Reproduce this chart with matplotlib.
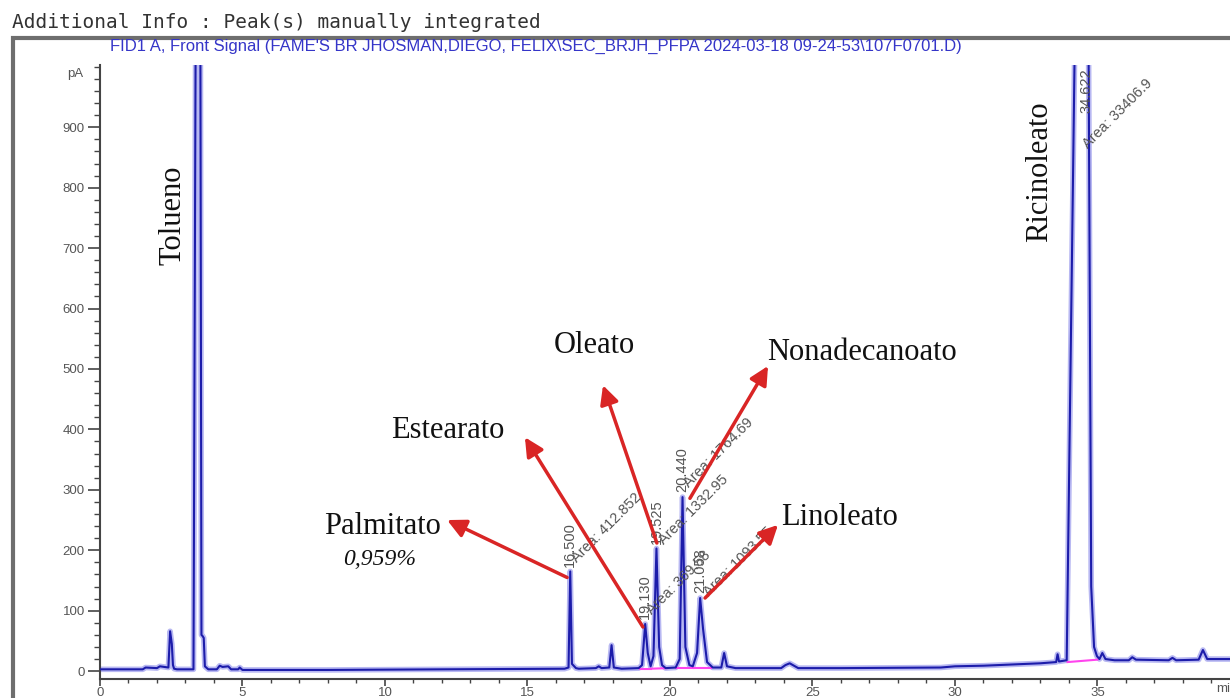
import matplotlib
matplotlib.use("Agg")
import matplotlib.pyplot as plt
from matplotlib.patches import Rectangle
from matplotlib.ticker import MultipleLocator

# =============================================================================
# FID chromatogram (FAME) - trace
# =============================================================================
# 0 - 6 min : solvent region (toluene off-scale)
t_a = [0.0, 1.5, 1.6, 2.0, 2.1, 2.4, 2.46, 2.52, 2.56, 2.6, 2.7, 3.28, 3.36,
       3.52, 3.56, 3.6, 3.64, 3.68, 3.8, 4.1, 4.2, 4.3, 4.5, 4.6, 4.85, 4.9, 5.0]
s_a = [3, 3, 6, 5, 8, 6, 66, 45, 10, 4, 3, 3, 1100,
       1100, 60, 58, 55, 8, 3, 3, 9, 7, 8, 3, 3, 6, 2]
# 6 - 33 min : FAME peaks
t_b = [8.0, 12.0, 16.3, 16.44, 16.5, 16.56, 16.7, 16.8, 17.4, 17.5, 17.6,
       17.87, 17.95, 18.03, 18.3, 18.9, 19.02, 19.13, 19.22, 19.32, 19.42,
       19.525, 19.62, 19.72, 19.85, 20.2, 20.34, 20.44, 20.54, 20.68, 20.8,
       20.95, 21.058, 21.16, 21.3, 21.5, 21.8, 21.9, 22.0, 22.3, 23.9, 24.05,
       24.2, 24.35, 24.5, 26.0, 29.5, 30.0, 31.0, 32.0, 33.0]
s_b = [2, 3, 4, 6, 165, 12, 5, 4, 5, 8, 5,
       6, 43, 6, 4, 5, 10, 78, 30, 8, 25,
       203, 40, 10, 5, 6, 20, 288, 40, 10, 8,
       30, 121, 70, 15, 6, 6, 30, 8, 5, 5, 10,
       13, 9, 5, 5, 6, 8, 9, 11, 13]
# 33 - 39.7 min : ricinoleate (off-scale) and late peaks
t_c = [33.55, 33.6, 33.65, 33.92, 34.22, 34.68, 34.78, 34.88, 34.98, 35.07,
       35.17, 35.28, 35.6, 36.1, 36.22, 36.35, 37.5, 37.63, 37.76, 38.55,
       38.7, 38.85, 39.7]
s_c = [15, 28, 16, 18, 1100, 1100, 140, 40, 25, 20,
       30, 20, 18, 18, 23, 19, 18, 22, 18, 19,
       35, 20, 20]

t = t_a + t_b + t_c
signal = s_a + s_b + s_c

# integration baselines (magenta)
base_t = [[18.95, 19.33], [19.33, 19.9], [20.2, 20.8], [20.85, 21.45], [33.95, 35.0]]
base_y = [[4, 4], [4, 5], [5, 5], [5, 5], [15, 19]]

# peak labels
peak_rt = [16.500, 19.130, 19.525, 20.440, 21.058, 34.622]
peak_h = [165, 78, 203, 288, 121, 915]
area_rt = [16.8, 19.45, 19.85, 20.75, 21.45, 34.74]
area_h = [175, 90, 205, 300, 120, 860]
area_txt = ["Area: 412.852", "Area: 369.58", "Area: 1332.95", "Area: 1764.69",
            "Area: 1093.55", "Area: 33406.9"]

# compound names with arrows
names = ["Palmitato", "Estearato", "Oleato", "Nonadecanoato", "Linoleato"]
name_x = [9.9, 12.2, 17.33, 26.75, 25.96]
name_y = [240, 399, 539, 528, 255]
tail_x = [16.39, 19.05, 19.54, 20.7, 21.23]
tail_y = [155, 73, 212, 286, 121]
tip_x = [12.18, 14.91, 17.65, 23.44, 23.79]
tip_y = [250, 387, 473, 505, 242]

W, H = 1230, 698
fig = plt.figure(figsize=(W / 100, H / 100), dpi=100)
ax = fig.add_axes([100 / W, 1 - 679 / H, 1 - 100 / W, (679 - 65) / H])

ax.plot(t, signal, color="#b8b8f2", lw=4, solid_joinstyle="round", zorder=2)
ax.plot(t, signal, color="#1c1caa", lw=1.5, zorder=3)
for bt, by in zip(base_t, base_y):
    ax.plot(bt, by, color="#ff44ee", lw=1.5, zorder=2.5)

ax.set_xlim(0, 39.65)
ax.set_ylim(-13, 1003)
ax.xaxis.set_major_locator(MultipleLocator(5))
ax.xaxis.set_minor_locator(MultipleLocator(1))
ax.set_yticks(range(0, 1000, 100))
ax.yaxis.set_minor_locator(MultipleLocator(20))
for s in ["top", "right"]:
    ax.spines[s].set_visible(False)
for s in ["left", "bottom"]:
    ax.spines[s].set_color("#444444")
    ax.spines[s].set_linewidth(1.5)
ax.tick_params(which="both", color="#444444", labelsize=9.5, labelcolor="#555555")
ax.tick_params(axis="y", which="major", length=9, width=1.2, pad=2)
ax.tick_params(axis="y", which="minor", length=4, width=1.0)
ax.tick_params(axis="x", which="major", length=5, width=1.2, pad=1)
ax.tick_params(axis="x", which="minor", length=3, width=1.0)
for lab in ax.get_xticklabels() + ax.get_yticklabels():
    lab.set_family("Liberation Sans")
ax.text(-0.6, 988, "pA", ha="right", va="center", fontsize=9.5,
        color="#555555", family="Liberation Sans")
ax.text(39.15, -20, "mi", ha="left", va="top", fontsize=9.5,
        color="#555555", family="Liberation Sans", clip_on=False)

# peak retention times and areas
for rt, h in zip(peak_rt, peak_h):
    ax.text(rt, h + 8, "%.3f" % rt, rotation=90, ha="center", va="bottom",
            fontsize=10.5, color="#555555", family="Liberation Sans", clip_on=True)
for rt, h, txt in zip(area_rt, area_h, area_txt):
    ax.text(rt, h, txt, rotation=45, rotation_mode="anchor", ha="left",
            va="bottom", fontsize=10.5, color="#555555", family="Liberation Sans")

# compound names and arrows
red = "#d92525"
for n, x, y, x0, y0, x1, y1 in zip(names, name_x, name_y, tail_x, tail_y, tip_x, tip_y):
    ax.text(x, y, n, ha="center", va="center", fontsize=22,
            family="Liberation Serif", color="#111111", zorder=5)
    ax.annotate("", xy=(x1, y1), xytext=(x0, y0),
                arrowprops=dict(arrowstyle="-|>", color=red, lw=2.5,
                                mutation_scale=28, shrinkA=0, shrinkB=0),
                zorder=4)
ax.text(9.82, 184, "0,959%", ha="center", va="center", fontsize=17,
        style="italic", family="Liberation Serif", color="#111111")
ax.text(2.56, 754, "Tolueno", rotation=90, ha="center", va="center",
        fontsize=22, family="Liberation Serif", color="#111111")
ax.text(32.98, 826, "Ricinoleato", rotation=90, ha="center", va="center",
        fontsize=22, family="Liberation Serif", color="#111111")

# printout header and frame
fig.patches.append(Rectangle((13 / W, -0.1), 1.2, 1.1 - 38 / H,
                             transform=fig.transFigure, fill=False,
                             edgecolor="#6e6e6e", lw=3, zorder=0))
fig.text(12 / W, 1 - 22 / H, "Additional Info : Peak(s) manually integrated",
         ha="left", va="center", fontsize=14, family="DejaVu Sans Mono",
         color="#333333")
fig.text(110 / W, 1 - 46 / H,
         "FID1 A, Front Signal (FAME'S BR JHOSMAN,DIEGO, FELIX\\SEC_BRJH_PFPA "
         "2024-03-18 09-24-53\\107F0701.D)",
         ha="left", va="center", fontsize=12, family="Liberation Sans",
         color="#3535c8")

fig.savefig("out.png", dpi=100)
